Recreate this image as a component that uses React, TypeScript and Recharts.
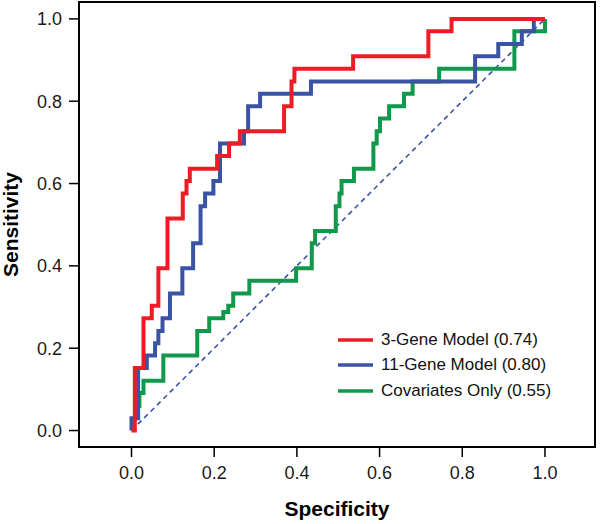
import { LineChart, Line, XAxis, YAxis, ReferenceArea } from "recharts"

const FONT = "'Liberation Sans', Arial, Helvetica, sans-serif"
const RED = "#ED1C24"
const BLUE = "#3A53A4"
const GREEN = "#10994A"

const specTicks = [0, 0.2, 0.4, 0.6, 0.8, 1.0]
const sensTicks = [0, 0.2, 0.4, 0.6, 0.8, 1.0]

// step corners: x of each vertical run and the sensitivity it climbs to
const threeGeneX = [0, 0.008, 0.029, 0.049, 0.065, 0.087, 0.124, 0.133, 0.141, 0.207, 0.236, 0.262, 0.369, 0.387, 0.394, 0.536, 0.718, 0.774, 1.0]
const threeGeneY = [0, 0.152, 0.273, 0.303, 0.394, 0.515, 0.576, 0.606, 0.636, 0.667, 0.697, 0.727, 0.788, 0.848, 0.879, 0.909, 0.970, 1.0, 1.0]

const elevenGeneX = [0, 0, 0.016, 0.037, 0.057, 0.065, 0.075, 0.093, 0.123, 0.149, 0.167, 0.178, 0.198, 0.214, 0.272, 0.282, 0.311, 0.434, 0.831, 0.887, 0.944, 0.973, 1.0]
const elevenGeneY = [0, 0.03, 0.152, 0.182, 0.212, 0.242, 0.273, 0.333, 0.394, 0.455, 0.545, 0.576, 0.606, 0.697, 0.727, 0.788, 0.818, 0.848, 0.909, 0.939, 0.970, 1.0, 1.0]

const covariatesX = [0.019, 0.019, 0.029, 0.077, 0.159, 0.188, 0.222, 0.234, 0.246, 0.285, 0.398, 0.436, 0.444, 0.494, 0.503, 0.508, 0.538, 0.585, 0.593, 0.601, 0.623, 0.659, 0.680, 0.744, 0.926, 1.0]
const covariatesY = [0.055, 0.091, 0.121, 0.182, 0.242, 0.273, 0.288, 0.303, 0.333, 0.364, 0.394, 0.455, 0.485, 0.545, 0.576, 0.606, 0.636, 0.697, 0.727, 0.758, 0.788, 0.818, 0.848, 0.879, 0.970, 1.0]

const chanceX = [0, 1]
const chanceY = [0, 1]

const legendNames = ["3-Gene Model (0.74)", "11-Gene Model (0.80)", "Covariates Only (0.55)"]
const legendColors = [RED, BLUE, GREEN]

const toPoints = (xs: number[], ys: number[]) => xs.map((x, i) => ({ x, y: ys[i] }))

function RocLegend() {
    return (
        <div style={{ position: "absolute", left: 338, top: 327, fontFamily: FONT, fontSize: 17, color: "#111" }}>
            {legendNames.map((name, i) => (
                <div key={name} style={{ display: "flex", alignItems: "center", height: 25.5 }}>
                    <svg width={35} height={4} style={{ display: "block" }}>
                        <line x1={0} y1={2} x2={35} y2={2} stroke={legendColors[i]} strokeWidth={3.5} />
                    </svg>
                    <span style={{ marginLeft: 8, whiteSpace: "nowrap" }}>{name}</span>
                </div>
            ))}
        </div>
    )
}

export default function App() {
    const tickStyle = { fill: "#1a1a1a", fontSize: 18, fontFamily: FONT }
    const titleStyle = { fill: "#000", fontSize: 21, fontWeight: "bold", fontFamily: FONT }

    return (
        <div style={{ position: "absolute", left: 0, top: 0, width: 600, height: 524, background: "#fff" }}>
            <LineChart width={600} height={524} margin={{ top: 2, right: 5, left: 0, bottom: 7 }}>
                <XAxis
                    dataKey="x"
                    type="number"
                    domain={[-0.127, 1.121]}
                    allowDataOverflow
                    ticks={specTicks}
                    tickFormatter={(v: number) => v.toFixed(1)}
                    axisLine={false}
                    tickLine={{ stroke: "#000", strokeWidth: 1.5 }}
                    tickSize={10}
                    tickMargin={9}
                    tick={tickStyle}
                    height={70}
                    label={{ value: "Specificity", position: "insideBottom", offset: 1, style: titleStyle }}
                />
                <YAxis
                    type="number"
                    domain={[-0.04, 1.041]}
                    allowDataOverflow
                    ticks={sensTicks}
                    tickFormatter={(v: number) => v.toFixed(1)}
                    axisLine={false}
                    tickLine={{ stroke: "#000", strokeWidth: 1.5 }}
                    tickSize={10}
                    tickMargin={7}
                    tick={tickStyle}
                    width={79}
                    label={{ value: "Sensitivity", angle: -90, position: "insideLeft", offset: 11, style: { ...titleStyle, textAnchor: "middle" } }}
                />
                <ReferenceArea
                    x1={-0.127}
                    x2={1.121}
                    y1={-0.04}
                    y2={1.041}
                    fill="none"
                    stroke="#000"
                    strokeWidth={2}
                    ifOverflow="visible"
                />
                <Line
                    data={toPoints(chanceX, chanceY)}
                    dataKey="y"
                    type="linear"
                    stroke={BLUE}
                    strokeWidth={1.6}
                    strokeDasharray="5 4"
                    dot={false}
                    isAnimationActive={false}
                />
                <Line
                    data={toPoints(covariatesX, covariatesY)}
                    dataKey="y"
                    type="stepAfter"
                    stroke={GREEN}
                    strokeWidth={4}
                    dot={false}
                    isAnimationActive={false}
                />
                <Line
                    data={toPoints(elevenGeneX, elevenGeneY)}
                    dataKey="y"
                    type="stepAfter"
                    stroke={BLUE}
                    strokeWidth={4}
                    dot={false}
                    isAnimationActive={false}
                />
                <Line
                    data={toPoints(threeGeneX, threeGeneY)}
                    dataKey="y"
                    type="stepAfter"
                    stroke={RED}
                    strokeWidth={4}
                    dot={false}
                    isAnimationActive={false}
                />
            </LineChart>
            <RocLegend />
        </div>
    )
}
